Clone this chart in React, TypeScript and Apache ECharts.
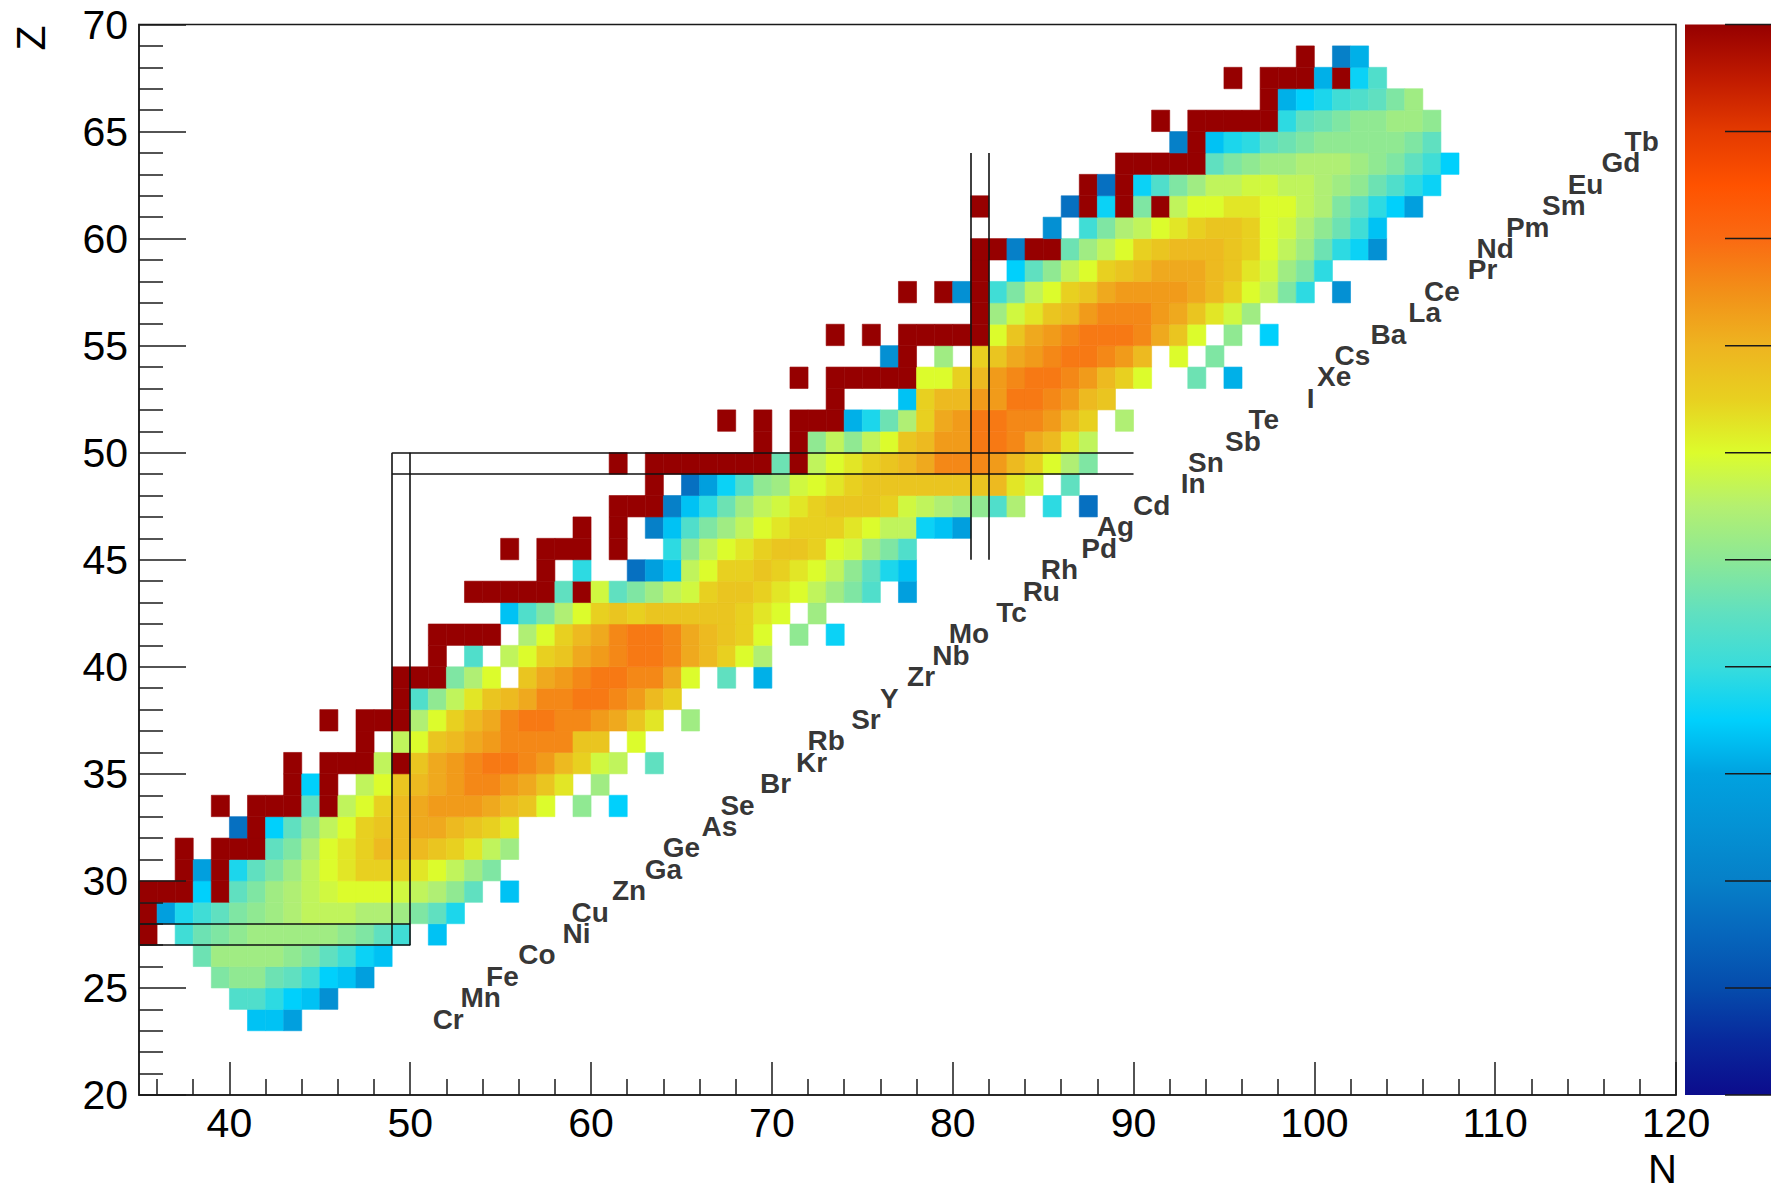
import React, { useEffect, useRef } from "react";
import * as echarts from "echarts";

// Colour palette of the z scale, bottom (0) to top (1), evenly spaced.
const PALETTE = [
  "#0c0c8c", "#08289c", "#054cac", "#0666bc", "#0680c8", "#0492d4", "#00a2e0",
  "#00d0fc", "#38dcdc", "#60e0c0", "#8ce896", "#b4f070", "#dcfc2c", "#e8d020",
  "#eeb420", "#f29018", "#fa6a12", "#ff5200", "#e43a00", "#c01a00", "#960000",
];

// One character per cell; each code stands for a z value on the 0..1 scale.
const LEVEL_CODES = "123456789abcdefghijklmnopqrstR";
const LEVEL_VALUES = [
  0.17, 0.2, 0.245, 0.29, 0.315, 0.335, 0.35, 0.36, 0.375,
  0.39, 0.41, 0.43, 0.45, 0.465, 0.485, 0.505, 0.525, 0.545, 0.565, 0.585,
  0.6, 0.625, 0.65, 0.67, 0.69, 0.715, 0.735, 0.76, 0.78,
  1.0,
];

// Rows of the chart: proton number Z, first neutron number N, cell codes ('.' = empty).
const rowZ = [
  23, 24, 25, 26, 27, 28, 29, 30, 31, 32, 33, 34, 35, 36, 37, 38, 39, 40, 41, 42, 43, 44, 45,
  46, 47, 48, 49, 50, 51, 52, 53, 54, 55, 56, 57, 58, 59, 60, 61, 62, 63, 64, 65, 66, 67, 68,
];
const rowFirstN = [
  41, 40, 39, 38, 35, 35, 35, 37, 37, 40, 39, 43, 43, 47, 45, 49, 49, 51, 51, 55, 53, 57, 55,
  59, 61, 63, 61, 69, 67, 73, 71, 76, 73, 81, 77, 81, 81, 85, 81, 87, 89, 92, 91, 97, 95, 99,
];
const rowCells = [
  "664",
  "cca763",
  "fggedb764",
  "ehhhhgfdb86",
  "R.befghhhhhgfdb.6",
  "R49bdfghijjjiihfd9",
  "RRR7Rdfhijklllkjigd.6",
  "R4R9dfhjlmnnnmljhf",
  "R.RRRdfilmnppponmjh",
  "1R7dgjlnopqqponm",
  "R.RRRdRjlnpqrrrqpol.g.7",
  "R7R.jlopqrssrqom.h",
  "R.RRRjRoqrsttsrpnkj.d",
  "R.jlopqrssssoo.l",
  "R.RRRilnpqsttssrqom.h",
  "Rcgjmopqssttsrpn",
  "RRRfil.oqrsttssql.d.5",
  "R.c.jlnoqrsttsqpnli",
  "RRRR.ilnpqsttsqponl.g.8",
  "6cfilnonooooonml.h",
  "RRRRRdRkdfhjknoonmljhfc.4",
  "R.a..146jlnnonmljgd96",
  "R.RRR.R..agjlmnoonlkhfc",
  "R.R.26cfhjlmnnnmljj864",
  "RRR26aehjkmnooonkjihgci.a.1",
  "R.148cghklmnooooooopmk.d",
  "R.RRRRRRReRjlmnopqsssrpnlif",
  "R.Rgjgjloprrttsqpmj",
  "R.R.RRR59einqrttssrpn.i",
  "R...6npprrttsrpo",
  "R.RRRRRllnprsttsrpnl..e.5",
  "3R.h.noqrsttsrp.l.f",
  "R.R.RRRRRloqrstttsqol.g.7",
  "Rhkmoprsssrqomkh",
  "R.R3Rbfjlnoqrrrrqpnljfa.3",
  "R.7dgjlnopqqqpomkhfa",
  "RR2RRehjlnoppponljhea83",
  "3.bfijlmnoonlkigeb6",
  "R....1R8RfRjllmmlljifda74",
  "R1R8cfhjjkkjjihgeca8",
  "RRRRRdfghhiiihgfdb7",
  "2R69adefgggggfd",
  "R.RRRRRadefgghhg",
  "R579bcdfh",
  "R.RRR5R8c",
  "R.25",
];

// Magic-number boxes: segments [N1, Z1, N2, Z2].
const magicSegments = [
  [49, 27, 49, 50],
  [50, 27, 50, 50],
  [49, 49, 90, 49],
  [49, 50, 90, 50],
  [35, 27, 50, 27],
  [35, 28, 50, 28],
  [81, 45, 81, 64],
  [82, 45, 82, 64],
];

// Element symbols along the stability line: label centre N and element Z.
const elementNames = [
  "Cr", "Mn", "Fe", "Co", "Ni", "Cu", "Zn", "Ga", "Ge", "As", "Se", "Br", "Kr", "Rb",
  "Sr", "Y", "Zr", "Nb", "Mo", "Tc", "Ru", "Rh", "Pd", "Ag", "Cd", "In", "Sn", "Sb",
  "Te", "I", "Xe", "Cs", "Ba", "La", "Ce", "Pr", "Nd", "Pm", "Sm", "Eu", "Gd", "Tb",
];
const elementZ = [
  24, 25, 26, 27, 28, 29, 30, 31, 32, 33, 34, 35, 36, 37, 38, 39, 40, 41, 42, 43, 44,
  45, 46, 47, 48, 49, 50, 51, 52, 53, 54, 55, 56, 57, 58, 59, 60, 61, 62, 63, 64, 65,
];
const elementN = [
  52.1, 53.9, 55.1, 57.0, 59.2, 59.95, 62.1, 64.0, 65.0, 67.1, 68.1, 70.2, 72.2, 73.0,
  75.2, 76.5, 78.25, 79.9, 80.9, 83.25, 84.9, 85.9, 88.1, 89.0, 91.0, 93.3, 94.0, 96.05,
  97.2, 99.8, 101.1, 102.1, 104.1, 106.1, 107.05, 109.3, 110.0, 111.8, 113.8, 115.0, 116.95, 118.1,
];

const xMajorTicks = [40, 50, 60, 70, 80, 90, 100, 110, 120];

// Layout (pixels)
const W = 1771;
const H = 1190;
const GRID = { left: 139, top: 24.5, right: 95, bottom: 95 };
const BAR = { x: 1685, width: 100, tickFrom: 1725 };
const FONT = "'Liberation Sans', Arial, Helvetica, sans-serif";
const INK = "#1a1a1a";

function buildCells(): number[][] {
  const out: number[][] = [];
  rowZ.forEach((z, i) => {
    const codes = rowCells[i];
    for (let k = 0; k < codes.length; k++) {
      const ch = codes[k];
      if (ch === ".") continue;
      out.push([rowFirstN[i] + k, z, LEVEL_VALUES[LEVEL_CODES.indexOf(ch)]]);
    }
  });
  return out;
}

export default function App() {
  const ref = useRef<HTMLDivElement>(null);

  useEffect(() => {
    if (!ref.current) return;
    const chart = echarts.init(ref.current, null, { renderer: "svg" });

    const cells = buildCells();
    const plotH = H - GRID.top - GRID.bottom;
    const minorX: number[] = [];
    for (let n = 36; n < 120; n += 2) if (n % 10 !== 0) minorX.push(n);

    const barTicks = [];
    for (let k = 0; k <= 10; k++) {
      const y = GRID.top + (plotH * k) / 10;
      barTicks.push({
        type: "line",
        shape: { x1: BAR.tickFrom, y1: y, x2: W, y2: y },
        style: { stroke: INK, lineWidth: 1.5 },
        z: 20,
      });
    }

    chart.setOption({
      animation: false,
      backgroundColor: "#ffffff",
      grid: {
        ...GRID,
        show: true,
        borderColor: INK,
        borderWidth: 1.5,
        backgroundColor: "transparent",
        z: 10,
      },
      xAxis: [
        {
          type: "value",
          min: 35,
          max: 120,
          position: "bottom",
          z: 10,
          axisLine: { show: true, onZero: false, lineStyle: { color: INK, width: 1.5 } },
          axisTick: {
            show: true,
            inside: true,
            length: 33,
            customValues: xMajorTicks,
            lineStyle: { color: INK, width: 1.5 },
          },
          axisLabel: {
            show: true,
            customValues: xMajorTicks,
            margin: 7,
            fontSize: 41,
            fontFamily: FONT,
            color: "#000",
          },
          splitLine: { show: false },
        },
        {
          type: "value",
          min: 35,
          max: 120,
          position: "bottom",
          z: 10,
          axisLine: { show: false },
          axisTick: {
            show: true,
            inside: true,
            length: 16,
            customValues: minorX,
            lineStyle: { color: INK, width: 1.5 },
          },
          axisLabel: { show: false },
          splitLine: { show: false },
        },
      ],
      yAxis: {
        type: "value",
        min: 20,
        max: 70,
        interval: 5,
        z: 10,
        axisLine: { show: true, onZero: false, lineStyle: { color: INK, width: 1.5 } },
        axisTick: { show: true, inside: true, length: 47, lineStyle: { color: INK, width: 1.5 } },
        minorTick: { show: true, splitNumber: 5, length: 24, lineStyle: { color: INK, width: 1.5 } },
        axisLabel: { margin: 11, fontSize: 41, fontFamily: FONT, color: "#000" },
        splitLine: { show: false },
        minorSplitLine: { show: false },
      },
      visualMap: {
        type: "continuous",
        show: false,
        min: 0,
        max: 1,
        dimension: 2,
        seriesIndex: 0,
        inRange: { color: PALETTE },
      },
      series: [
        {
          type: "custom",
          xAxisIndex: 0,
          yAxisIndex: 0,
          data: cells,
          encode: { x: 0, y: 1 },
          z: 2,
          silent: true,
          renderItem: (params: any, api: any) => {
            const n = api.value(0);
            const z = api.value(1);
            const p0 = api.coord([n, z + 1]);
            const p1 = api.coord([n + 1, z]);
            const color = api.visual("color");
            return {
              type: "rect",
              shape: { x: p0[0], y: p0[1], width: p1[0] - p0[0], height: p1[1] - p0[1] },
              style: { fill: color, stroke: color, lineWidth: 0.6 },
            };
          },
        },
        {
          type: "lines",
          coordinateSystem: "cartesian2d",
          xAxisIndex: 0,
          yAxisIndex: 0,
          z: 3,
          silent: true,
          lineStyle: { color: "#111", width: 1.6, opacity: 1 },
          data: magicSegments.map((s) => ({ coords: [[s[0], s[1]], [s[2], s[3]]] })),
        },
        {
          type: "scatter",
          xAxisIndex: 0,
          yAxisIndex: 0,
          z: 4,
          silent: true,
          symbolSize: 1,
          itemStyle: { color: "transparent" },
          label: {
            show: true,
            position: "inside",
            formatter: (p: any) => p.value[2],
            fontSize: 28,
            fontWeight: "bold",
            fontFamily: FONT,
            color: "#000",
          },
          data: elementNames.map((name, i) => [elementN[i], elementZ[i] - 0.46, name]),
        },
      ],
      graphic: [
        {
          type: "rect",
          shape: { x: BAR.x, y: GRID.top, width: BAR.width, height: plotH },
          style: {
            fill: new echarts.graphic.LinearGradient(
              0,
              1,
              0,
              0,
              PALETTE.map((c, i) => ({ offset: i / (PALETTE.length - 1), color: c }))
            ),
          },
          z: 19,
        },
        ...barTicks,
        {
          type: "text",
          x: 31,
          y: 38,
          rotation: Math.PI / 2,
          style: {
            text: "Z",
            fontSize: 41,
            fontFamily: FONT,
            fill: "#000",
            align: "center",
            verticalAlign: "middle",
          },
          z: 20,
        },
        {
          type: "text",
          x: 1677,
          y: 1169,
          style: {
            text: "N",
            fontSize: 40,
            lineHeight: 38,
            fontFamily: FONT,
            fill: "#000",
            align: "right",
            verticalAlign: "middle",
          },
          z: 20,
        },
      ],
    });

    return () => chart.dispose();
  }, []);

  return (
    <div
      ref={ref}
      style={{ position: "absolute", left: 0, top: 0, width: W, height: H, background: "#fff" }}
    />
  );
}
